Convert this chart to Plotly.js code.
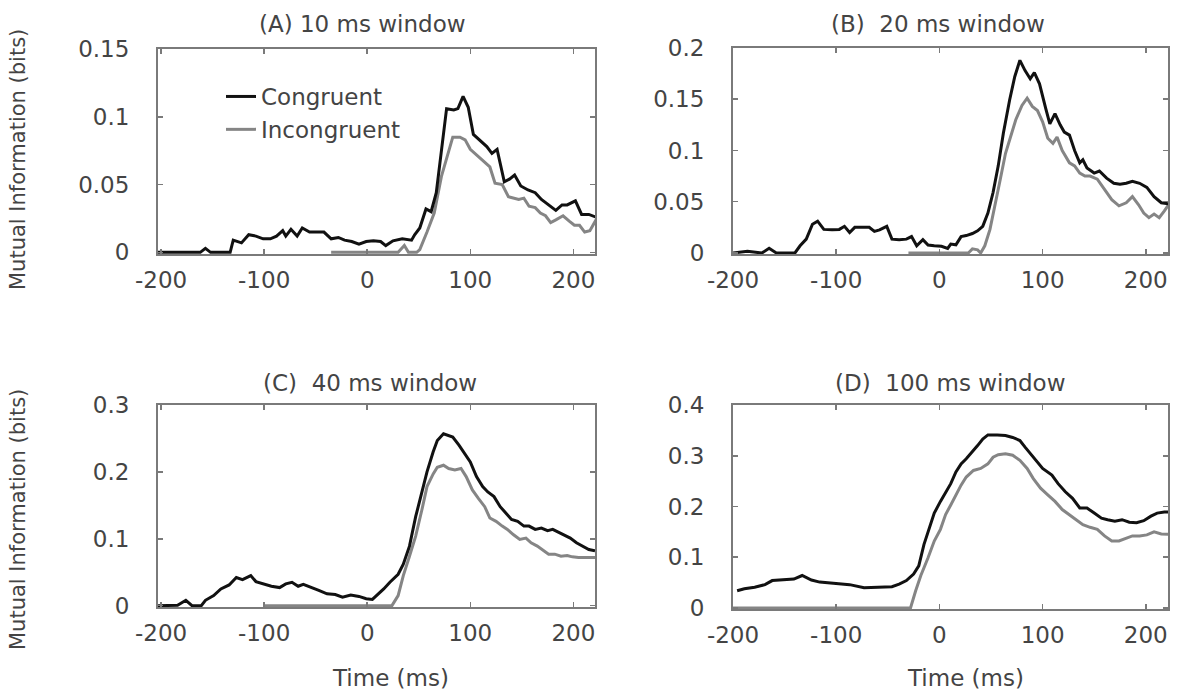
<!DOCTYPE html>
<html>
<head>
<meta charset="utf-8">
<script src="https://cdn.plot.ly/plotly-3.0.1.min.js"></script>
<style>html,body{margin:0;padding:0;background:#fff;}#chart{width:1178px;height:696px;}</style>
</head>
<body>
<div id="chart"></div>
<script>
// ---------- data ----------
const seriesNames = ["Congruent", "Incongruent"];
const panelTitles = ["(A) 10 ms window", "(B)\u00a0 20 ms window", "(C)\u00a0 40 ms window", "(D)\u00a0 100 ms window"];
const xTickVals = [-200, -100, 0, 100, 200];
const xTickText = ["-200", "-100", "0", "100", "200"];

// Panel A: 10 ms window
const tA_c = [-203,-162,-157,-152,-133,-130,-122,-115,-108,-101,-94,-88,-82,-79,-74,-68,-63,-56,-49,-42,-35,-28,-22,-15,-8,-1,6,13,18,25,34,43,46,51,57,62,67,72,77,84,88,93,98,103,109,116,121,126,133,138,143,149,156,163,169,176,183,189,194,202,208,215,222];
const vA_c = [0,0,0.003,0,0,0.009,0.007,0.013,0.012,0.010,0.010,0.012,0.016,0.012,0.017,0.012,0.018,0.015,0.015,0.015,0.010,0.011,0.009,0.008,0.006,0.008,0.0085,0.008,0.005,0.0085,0.010,0.009,0.013,0.018,0.032,0.030,0.044,0.073,0.106,0.105,0.106,0.115,0.107,0.087,0.083,0.078,0.073,0.076,0.052,0.054,0.057,0.049,0.046,0.044,0.039,0.035,0.031,0.035,0.035,0.038,0.028,0.028,0.026];
const tA_i = [-35,30,36,40,48,51,58,65,72,77,83,90,95,100,107,114,119,124,131,137,142,147,152,157,163,168,173,178,183,190,196,201,206,211,216,222];
const vA_i = [0,0,0.005,0,0,0.002,0.015,0.029,0.056,0.070,0.085,0.085,0.083,0.076,0.071,0.066,0.063,0.051,0.050,0.041,0.040,0.039,0.040,0.034,0.033,0.029,0.027,0.022,0.024,0.027,0.023,0.020,0.020,0.015,0.016,0.024];

// Panel B: 20 ms window
const tB_c = [-200,-186,-172,-165,-158,-140,-135,-129,-123,-118,-112,-104,-97,-92,-87,-82,-73,-68,-63,-58,-51,-46,-39,-32,-27,-22,-16,-11,-5,2,8,11,16,21,26,32,37,42,47,52,57,62,68,73,78,83,88,92,97,100,103,107,112,117,121,126,131,136,139,143,150,155,162,169,175,181,187,194,201,208,215,222];
const vB_c = [0,0.0016,0,0.0045,0,0,0.007,0.0135,0.028,0.031,0.023,0.0226,0.023,0.026,0.020,0.025,0.025,0.025,0.021,0.0226,0.026,0.0135,0.013,0.0135,0.016,0.007,0.013,0.0077,0.007,0.0065,0.0045,0.0087,0.008,0.016,0.017,0.019,0.0216,0.026,0.039,0.059,0.085,0.117,0.149,0.172,0.188,0.178,0.170,0.176,0.165,0.152,0.141,0.126,0.136,0.125,0.118,0.115,0.100,0.088,0.091,0.083,0.078,0.080,0.073,0.068,0.067,0.068,0.070,0.068,0.064,0.055,0.049,0.048];
const tB_i = [-30,28,32,37,40,44,49,54,59,64,69,74,80,85,90,95,100,105,110,114,119,126,131,136,141,146,153,160,167,174,181,187,193,198,203,208,213,218,222];
const vB_i = [0,0,0.004,0.003,0,0.007,0.023,0.046,0.072,0.097,0.114,0.130,0.144,0.151,0.143,0.139,0.128,0.112,0.107,0.113,0.100,0.088,0.085,0.078,0.075,0.075,0.072,0.062,0.052,0.046,0.049,0.055,0.047,0.039,0.0345,0.038,0.0345,0.041,0.047];

// Panel C: 40 ms window
const tC_c = [-203,-191,-184,-176,-170,-161,-157,-149,-142,-134,-127,-121,-113,-108,-100,-93,-85,-79,-73,-67,-62,-54,-47,-39,-31,-24,-16,-8,-1,5,11,16,22,30,35,41,47,53,58,64,68,74,79,83,89,95,100,106,112,117,123,129,135,140,146,152,157,163,169,175,180,186,192,197,203,209,215,221];
const vC_c = [0,0.001,0.0005,0.008,0,0,0.008,0.015,0.025,0.031,0.042,0.039,0.045,0.036,0.0325,0.029,0.027,0.0325,0.035,0.029,0.032,0.0275,0.023,0.0177,0.0167,0.0128,0.016,0.0138,0.0103,0.0094,0.0177,0.025,0.035,0.047,0.062,0.089,0.133,0.168,0.200,0.230,0.247,0.257,0.254,0.252,0.240,0.227,0.215,0.193,0.178,0.170,0.163,0.148,0.138,0.129,0.126,0.119,0.119,0.114,0.116,0.112,0.114,0.109,0.104,0.101,0.094,0.089,0.084,0.082];
const tC_i = [-100,24,30,35,41,47,53,58,64,68,74,79,85,91,96,102,108,114,119,125,131,136,142,148,154,159,165,171,176,182,188,194,199,205,211,221];
const vC_i = [0,0,0.015,0.045,0.074,0.104,0.143,0.178,0.197,0.207,0.210,0.205,0.203,0.205,0.193,0.173,0.160,0.148,0.131,0.126,0.119,0.114,0.106,0.099,0.101,0.094,0.089,0.082,0.077,0.077,0.074,0.075,0.073,0.072,0.072,0.072];

// Panel D: 100 ms window
const tD_c = [-196,-189,-179,-169,-162,-152,-141,-133,-124,-116,-107,-98,-87,-73,-59,-46,-39,-32,-25,-20,-15,-10,-5,1,6,11,16,21,26,32,37,42,47,56,64,71,78,83,88,95,100,109,115,122,129,136,143,150,157,163,170,177,184,191,198,205,211,218,222];
const vD_c = [0.034,0.038,0.041,0.046,0.054,0.055,0.057,0.064,0.055,0.051,0.049,0.047,0.046,0.040,0.041,0.042,0.047,0.054,0.067,0.083,0.125,0.158,0.187,0.210,0.229,0.245,0.268,0.284,0.294,0.307,0.320,0.333,0.341,0.341,0.340,0.336,0.330,0.317,0.304,0.288,0.275,0.262,0.245,0.229,0.216,0.197,0.197,0.187,0.177,0.174,0.171,0.174,0.169,0.168,0.172,0.181,0.187,0.189,0.189];
const tD_i = [-200,-28,-23,-18,-11,-5,1,6,11,16,21,26,33,40,47,52,57,64,71,78,85,91,98,105,112,119,126,133,139,146,153,160,167,174,181,187,194,201,208,215,222];
const vD_i = [0,0,0.034,0.064,0.099,0.132,0.155,0.184,0.203,0.223,0.242,0.258,0.271,0.275,0.284,0.297,0.302,0.304,0.301,0.291,0.275,0.255,0.236,0.223,0.210,0.194,0.184,0.174,0.164,0.159,0.155,0.142,0.132,0.132,0.137,0.142,0.142,0.144,0.150,0.146,0.145];

// ---------- styling ----------
const W = 1178, H = 696;
const FONT = "DejaVu Sans";
const TXT = "#444444";
const AX = "#7a7a7a";
const colC = "#111111", colI = "#858585";

const panels = [
  {tc: tA_c, vc: vA_c, ti: tA_i, vi: vA_i, xr: [-203, 221], yr: [-0.0012, 0.15], dy: 0.05, px: [158, 595], py: [49, 254]},
  {tc: tB_c, vc: vB_c, ti: tB_i, vi: vB_i, xr: [-200, 221.5], yr: [-0.001, 0.2], dy: 0.05, px: [733, 1168], py: [48, 254]},
  {tc: tC_c, vc: vC_c, ti: tC_i, vi: vC_i, xr: [-203, 221], yr: [-0.002, 0.3], dy: 0.1, px: [158, 595], py: [405, 607]},
  {tc: tD_c, vc: vD_c, ti: tD_i, vi: vD_i, xr: [-200, 221.5], yr: [-0.002, 0.4], dy: 0.1, px: [733, 1168], py: [405, 609]}
];

const data = [];
const layout = {
  width: W, height: H,
  margin: {l: 0, r: 0, t: 0, b: 0},
  paper_bgcolor: "#fff", plot_bgcolor: "#fff",
  font: {family: FONT, color: TXT, size: 23},
  showlegend: true,
  legend: {
    x: 221 / W, y: 1 - 75 / H, xanchor: "left", yanchor: "top",
    bgcolor: "rgba(0,0,0,0)", borderwidth: 0,
    font: {family: FONT, size: 23, color: TXT},
    tracegroupgap: 0
  },
  annotations: []
};

panels.forEach((p, k) => {
  const sfx = k === 0 ? "" : String(k + 1);
  const xa = "x" + sfx, ya = "y" + sfx;
  data.push({
    x: p.ti, y: p.vi, xaxis: xa, yaxis: ya, type: "scatter", mode: "lines",
    name: seriesNames[1], legendrank: 2, showlegend: k === 0,
    line: {color: colI, width: 3}, hoverinfo: "skip"
  });
  data.push({
    x: p.tc, y: p.vc, xaxis: xa, yaxis: ya, type: "scatter", mode: "lines",
    name: seriesNames[0], legendrank: 1, showlegend: k === 0,
    line: {color: colC, width: 3}, hoverinfo: "skip"
  });
  const common = {
    showline: true, linecolor: AX, linewidth: 2, mirror: "allticks",
    ticks: "inside", ticklen: 5, tickwidth: 1.5, tickcolor: AX,
    showgrid: false, zeroline: false, fixedrange: true,
    tickfont: {family: FONT, size: 23, color: TXT}
  };
  layout["xaxis" + sfx] = Object.assign({}, common, {
    domain: [p.px[0] / W, p.px[1] / W], range: p.xr, anchor: ya,
    tickmode: "array", tickvals: xTickVals, ticktext: xTickText, ticklabelstandoff: 4
  });
  layout["yaxis" + sfx] = Object.assign({}, common, {
    domain: [1 - p.py[1] / H, 1 - p.py[0] / H], range: p.yr, anchor: xa,
    tickmode: "linear", tick0: 0, dtick: p.dy, ticklabelstandoff: 22
  });
});

// panel titles
const titlePos = [[362, 24], [938, 24], [370, 383], [950, 383]];
panelTitles.forEach((t, k) => {
  layout.annotations.push({
    text: t, xref: "paper", yref: "paper",
    x: titlePos[k][0] / W, y: 1 - titlePos[k][1] / H,
    xanchor: "center", yanchor: "middle", showarrow: false,
    font: {family: FONT, size: 23, color: TXT}
  });
});
// y axis titles
[160, 520].forEach(yc => {
  layout.annotations.push({
    text: "Mutual Information (bits)", xref: "paper", yref: "paper",
    x: 18 / W, y: 1 - yc / H, xanchor: "center", yanchor: "middle",
    textangle: -90, showarrow: false,
    font: {family: FONT, size: 21, color: TXT}
  });
});
// x axis titles
[390, 965].forEach(xc => {
  layout.annotations.push({
    text: "Time (ms)", xref: "paper", yref: "paper",
    x: xc / W, y: 1 - 678 / H, xanchor: "center", yanchor: "middle",
    showarrow: false,
    font: {family: FONT, size: 23, color: TXT}
  });
});

Plotly.newPlot("chart", data, layout, {displayModeBar: false, staticPlot: true});
</script>
</body>
</html>
